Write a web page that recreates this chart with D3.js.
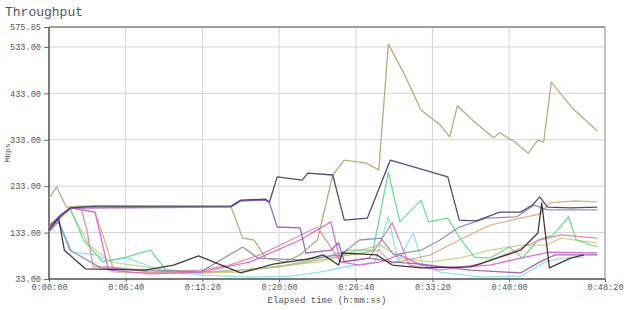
<!DOCTYPE html>
<html>
<head>
<meta charset="utf-8">
<script src="https://cdn.jsdelivr.net/npm/d3@7"></script>
<style>
  body { margin: 0; background: #fff; }
  #chart text { font-family: "Liberation Mono", "DejaVu Sans Mono", monospace; fill: #555; }
</style>
</head>
<body>
<div id="chart"></div>
<script>
// y ticks (Mbps) and x ticks (seconds)
const yTicks = [33, 133, 233, 333, 433, 533, 575.85];
const xTicks = [0, 400, 800, 1200, 1600, 2000, 2400, 2900];

// each series: [elapsed seconds, Mbps]
const olive = [[0,207],[40,231],[90,188],[160,190],[950,188],[1010,121],[1070,117],[1130,78],[1230,70],[1310,85],[1400,117],[1480,257],[1540,289],[1650,283],[1720,268],[1770,539],[1850,477],[1940,397],[2040,365],[2090,339],[2130,406],[2220,371],[2320,337],[2350,348],[2430,328],[2500,304],[2550,332],[2580,328],[2620,457],[2730,401],[2860,352]];
const navy = [[0,139],[50,164],[110,186],[240,190],[950,190],[1000,203],[1130,205],[1150,199],[1190,253],[1320,246],[1350,261],[1480,257],[1540,160],[1660,164],[1780,289],[2080,253],[2140,160],[2230,158],[2350,177],[2460,177],[2520,192],[2560,210],[2600,188],[2720,186],[2860,188]];
const purple = [[0,147],[60,171],[110,186],[950,188],[1000,201],[1130,203],[1150,197],[1190,145],[1310,143],[1340,89],[1470,95],[1510,111],[1540,70],[1670,78],[1790,70],[1940,65],[2200,52],[2460,46],[2560,70],[2640,85],[2860,85]];
const black = [[0,139],[50,164],[80,95],[190,55],[500,52],[650,63],[780,83],[1000,46],[1170,65],[1350,76],[1430,85],[1510,63],[1530,89],[1710,85],[1790,63],[1940,57],[2200,59],[2460,95],[2550,132],[2570,197],[2610,57],[2720,78],[2790,85]];
const green = [[0,143],[60,171],[110,186],[180,117],[280,70],[400,80],[530,95],[610,52],[790,48],[1000,52],[1200,59],[1410,78],[1570,95],[1690,95],[1770,263],[1830,156],[1940,203],[1980,156],[2080,164],[2150,117],[2220,80],[2300,78],[2400,102],[2470,78],[2550,117],[2630,128],[2710,167],[2750,117],[2860,102]];
const cyan = [[0,134],[50,160],[120,91],[250,85],[300,72],[410,78],[610,48],[790,42],[1050,37],[1260,39],[1410,48],[1570,61],[1700,70],[1770,167],[1820,70],[1900,132],[1950,63],[2040,48],[2250,37],[2460,39],[2590,70],[2670,78],[2790,80]];
const pink = [[0,143],[60,171],[110,186],[170,182],[200,134],[230,59],[330,59],[530,48],[790,52],[940,63],[1100,85],[1260,117],[1400,145],[1520,70],[1670,78],[1790,154],[1880,63],[2040,52],[2250,65],[2400,89],[2560,117],[2670,128],[2860,121]];
const tan = [[0,139],[70,173],[120,186],[240,177],[290,117],[340,48],[790,46],[1000,52],[1260,63],[1410,74],[1570,85],[1720,95],[1790,67],[1990,85],[2140,117],[2300,149],[2460,164],[2560,173],[2610,197],[2740,201],[2860,199]];
const lavender = [[0,134],[50,156],[110,95],[270,57],[530,52],[790,48],[1010,102],[1090,78],[1310,74],[1520,85],[1620,117],[1730,121],[1800,85],[1940,95],[2040,117],[2140,145],[2280,164],[2440,167],[2530,192],[2600,182],[2860,182]];
const lime = [[0,139],[60,164],[110,182],[210,106],[320,70],[530,57],[790,46],[1000,48],[1200,61],[1410,70],[1620,95],[1730,106],[1830,78],[1990,70],[2140,78],[2300,95],[2460,106],[2590,106],[2670,121],[2860,111]];
const magenta = [[0,147],[70,173],[120,186],[240,177],[310,52],[530,44],[790,48],[1050,70],[1310,117],[1470,156],[1520,70],[1620,63],[1730,70],[1830,85],[1940,63],[2090,57],[2300,63],[2460,78],[2610,91],[2860,89]];

const series = [cyan, lime, green, tan, pink, magenta, lavender, purple, olive, black, navy];
const colors = ["#86e0ea", "#bcd584", "#66d88a", "#d8ad7c", "#e87e9e", "#d860cf", "#8a86b4", "#9458b4", "#aaa672", "#2a2a2a", "#3e3a6a"];

const W = 640, H = 310;
const margin = { top: 27, right: 35, bottom: 31, left: 49 },
    width = W - margin.left - margin.right,
    height = H - margin.top - margin.bottom;

const svg = d3.select("#chart").append("svg")
    .attr("width", W).attr("height", H);

const g = svg.append("g")
    .attr("transform", `translate(${margin.left},${margin.top})`);

const x = d3.scaleLinear().domain([0, 2900]).range([0, width]);
const y = d3.scaleLinear().domain([33, 575.85]).range([height, 0]);

function hms(s) {
    const h = Math.floor(s / 3600), m = Math.floor((s % 3600) / 60), sec = Math.round(s % 60);
    return `${h}:${String(m).padStart(2, "0")}:${String(sec).padStart(2, "0")}`;
}

// grid
g.append("g").selectAll("line").data(yTicks).join("line")
    .attr("x1", 0).attr("x2", width)
    .attr("y1", d => y(d)).attr("y2", d => y(d))
    .attr("stroke", "#d4d4d4");
g.append("g").selectAll("line").data(xTicks).join("line")
    .attr("x1", d => x(d)).attr("x2", d => x(d))
    .attr("y1", 0).attr("y2", height)
    .attr("stroke", "#d4d4d4");

// axes
const yAxis = g.append("g")
    .call(d3.axisLeft(y).tickValues(yTicks).tickFormat(d => d.toFixed(2)).tickSize(5).tickPadding(3));
const xAxis = g.append("g")
    .attr("transform", `translate(0,${height})`)
    .call(d3.axisBottom(x).tickValues(xTicks).tickFormat(hms).tickSize(3).tickPadding(2));
[yAxis, xAxis].forEach(a => {
    a.select(".domain").remove();
    a.selectAll("line").attr("stroke", "#666");
    a.selectAll("text").style("font-size", "8.6px").attr("fill", "#555");
});

// frame
g.append("line").attr("x1", 0).attr("x2", width).attr("y1", 0).attr("y2", 0).attr("stroke", "#555");
g.append("line").attr("x1", width).attr("x2", width).attr("y1", 0).attr("y2", height).attr("stroke", "#999");
g.append("line").attr("x1", 0).attr("x2", 0).attr("y1", 0).attr("y2", height).attr("stroke", "#555").attr("stroke-width", 1.5);
g.append("line").attr("x1", 0).attr("x2", width).attr("y1", height).attr("y2", height).attr("stroke", "#555").attr("stroke-width", 1.5);

// lines
const line = d3.line().x(d => x(d[0])).y(d => y(d[1]));
g.append("g").selectAll("path").data(series).join("path")
    .attr("d", line)
    .attr("fill", "none")
    .attr("stroke", (d, i) => colors[i])
    .attr("stroke-width", 1.3)
    .attr("stroke-opacity", 0.9)
    .attr("stroke-linejoin", "round");

// titles
svg.append("text").attr("x", 5).attr("y", 16)
    .style("font-size", "13px").attr("fill", "#444").text("Throughput");
svg.append("text")
    .attr("transform", `translate(10,${margin.top + 126}) rotate(-90)`)
    .attr("text-anchor", "middle")
    .style("font-size", "8px").text("Mbps");
svg.append("text")
    .attr("x", margin.left + width / 2).attr("y", 303)
    .attr("text-anchor", "middle")
    .style("font-size", "9px").attr("fill", "#333").text("Elapsed time (h:mm:ss)");
</script>
</body>
</html>
